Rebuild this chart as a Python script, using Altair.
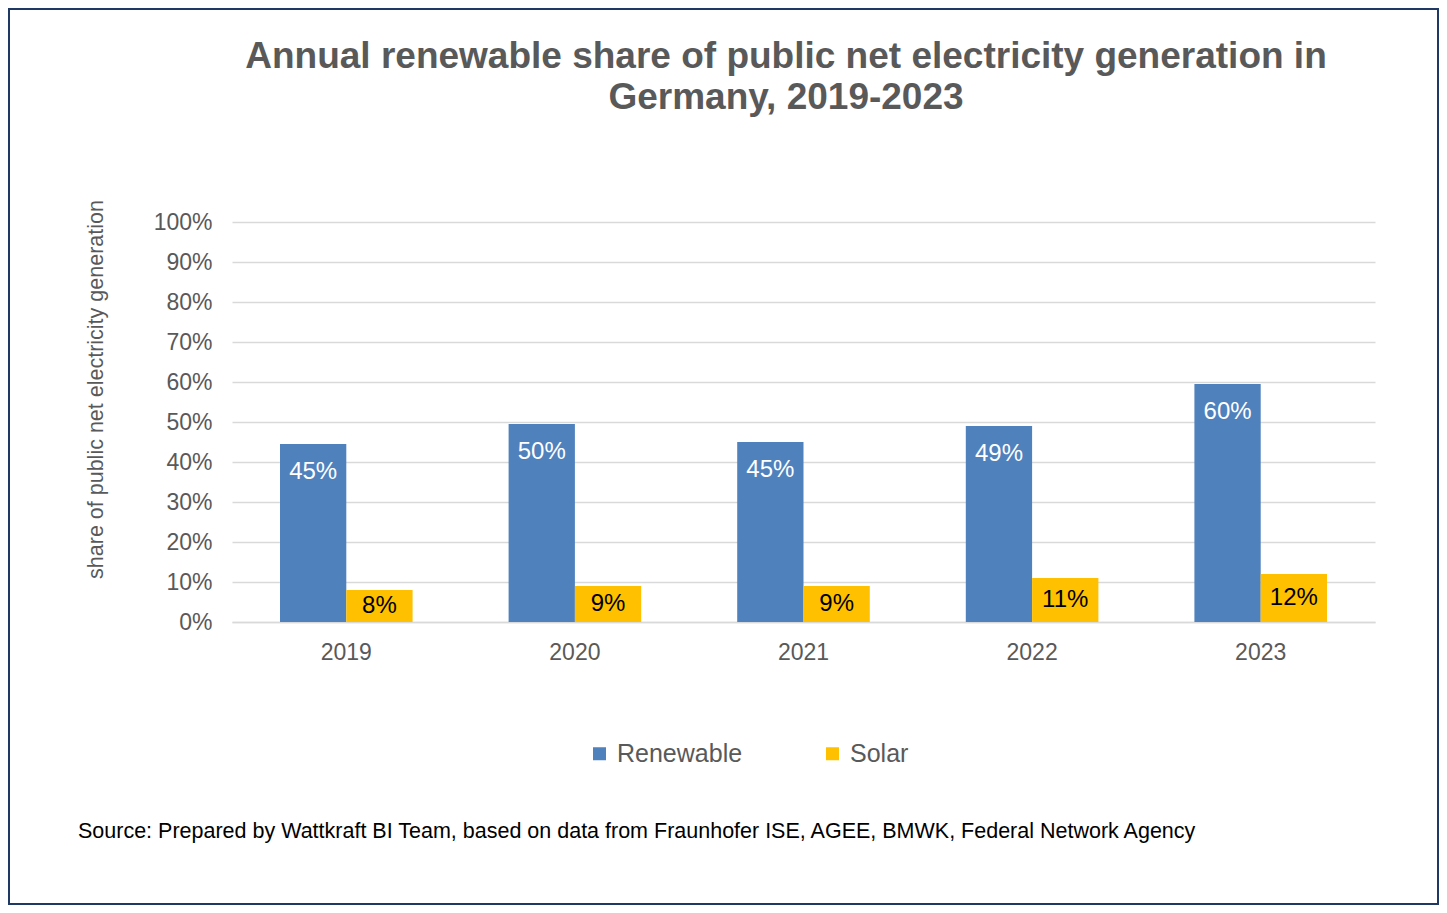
import altair as alt
import pandas as pd

# ---- data ----
years = ["2019", "2020", "2021", "2022", "2023"]
renewable = [44.5, 49.5, 45.0, 49.0, 59.5]
solar = [8.0, 9.0, 9.0, 11.0, 12.0]
series = ["Renewable", "Solar"]
colors = ["#4F81BD", "#FFC000"]
y_ticks = [0, 10, 20, 30, 40, 50, 60, 70, 80, 90, 100]
title_lines = ["Annual renewable share of public net electricity generation in",
               "Germany, 2019-2023"]
y_title = "share of public net electricity generation"
source_text = ("Source: Prepared by Wattkraft BI Team,  based on data from Fraunhofer ISE, "
               "AGEE,  BMWK,  Federal Network Agency")

rows = []
for i, yr in enumerate(years):
    rows.append({"year": yr, "series": "Renewable", "value": renewable[i]})
    rows.append({"year": yr, "series": "Solar", "value": solar[i]})
df = pd.DataFrame(rows)

W, H = 1143, 400
FONT = "Liberation Sans"
GREY = "#595959"
GRID = "#D9D9D9"

x = alt.X("year:N", sort=years,
          scale=alt.Scale(paddingInner=0.42, paddingOuter=0.21),
          axis=alt.Axis(title=None, labelAngle=0, labelFontSize=23, labelColor=GREY,
                        labelFont=FONT, labelPadding=19, ticks=False, tickSize=0,
                        domainColor=GRID, domainWidth=1.5, grid=False))
xoff = alt.XOffset("series:N", sort=series,
                   scale=alt.Scale(domain=series, paddingInner=0, paddingOuter=0))
yscale = alt.Scale(domain=[0, 100], nice=False)
yaxis = alt.Axis(values=y_ticks, labelExpr="datum.value + '%'",
                 labelFontSize=23, labelFont=FONT, labelColor=GREY,
                 labelPadding=20, ticks=False, tickSize=0, domain=False,
                 gridColor=GRID, gridWidth=1.5,
                 title=y_title, titleFont=FONT, titleFontSize=21.5,
                 titleFontWeight="normal", titleColor=GREY,
                 titleX=-125, titleY=167)

bars = alt.Chart(df).mark_bar().encode(
    x=x, xOffset=xoff, y=alt.Y("value:Q", scale=yscale, axis=yaxis),
    color=alt.Color("series:N",
                    scale=alt.Scale(domain=series, range=colors),
                    legend=alt.Legend(title=None, orient="none", legendX=355, legendY=519,
                                      padding=0, direction="horizontal", symbolType="square",
                                      symbolSize=169, symbolStrokeWidth=0,
                                      labelFontSize=25, labelFont=FONT, labelColor=GREY,
                                      columnPadding=77, labelOffset=5)),
)

ren_labels = alt.Chart(df).transform_filter("datum.series == 'Renewable'").transform_calculate(
    label="format(datum.value, '.0f') + '%'"
).mark_text(color="white", fontSize=24, font=FONT, baseline="middle", dy=28).encode(
    x=x, xOffset=xoff, y=alt.Y("value:Q", scale=yscale, axis=yaxis), text="label:N")

sol_labels = alt.Chart(df).transform_filter("datum.series == 'Solar'").transform_calculate(
    label="format(datum.value, '.0f') + '%'", mid="datum.value / 2"
).mark_text(color="black", fontSize=24, font=FONT, baseline="middle").encode(
    x=x, xOffset=xoff, y=alt.Y("mid:Q", scale=yscale, axis=yaxis), text="label:N")

title = alt.Chart(pd.DataFrame({"t": ["\n".join(title_lines)]})).mark_text(
    align="center", baseline="middle", fontSize=37, font=FONT, fontWeight="bold",
    color=GREY, lineBreak="\n", lineHeight=41
).encode(x=alt.value(786 - 232), y=alt.value(57 - 222), text="t:N")

source = alt.Chart(pd.DataFrame({"t": [source_text]})).mark_text(
    align="left", baseline="middle", fontSize=21.5, font=FONT, color="black"
).encode(x=alt.value(78 - 232), y=alt.value(832 - 222), text="t:N")

frame = alt.Chart(pd.DataFrame({"a": [0]})).mark_rect(
    fill="transparent", stroke="#1F3864", strokeWidth=2
).encode(x=alt.value(-223), x2=alt.value(W + 63), y=alt.value(-213), y2=alt.value(H + 282))

chart = alt.layer(bars, ren_labels, sol_labels, title, source, frame).properties(
    width=W, height=H,
    background="white",
    autosize=alt.AutoSizeParams(type="none"),
    padding={"left": 224, "top": 214, "right": 64, "bottom": 283},
).configure_view(stroke=None)

chart.save("out.html", embed_options={"renderer": "svg", "actions": False})
